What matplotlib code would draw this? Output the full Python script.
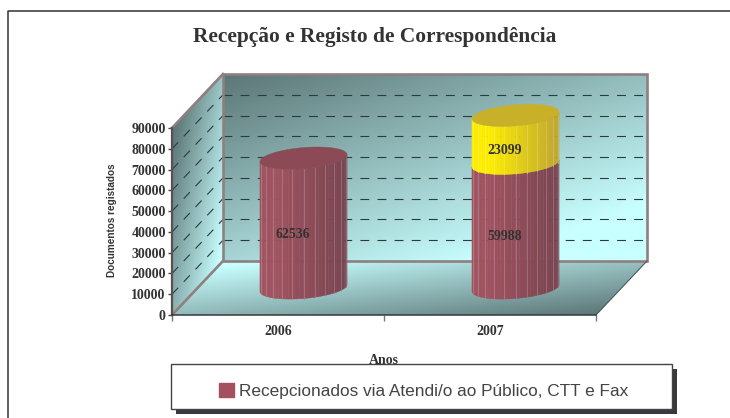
import numpy as np
import matplotlib
matplotlib.use('Agg')
import matplotlib.pyplot as plt
from matplotlib.patches import Polygon, Rectangle, Patch
from matplotlib.transforms import Affine2D, IdentityTransform
from matplotlib.colors import to_rgb

years = ['2006', '2007']
via_atendimento = [62536, 59988]
outros = [0, 23099]
y_ticks = [0, 10000, 20000, 30000, 40000, 50000, 60000, 70000, 80000, 90000]

W, H = 730, 418
SERIF = 'Liberation Serif'
SANS = 'Liberation Sans'
TEXT = '#333333'
DX, DY = 51, 54   # depth of the 3d box in pixels

fig = plt.figure(figsize=(W / 100, H / 100), dpi=100)
ax = fig.add_axes([172 / W, 1 - 315 / H, 424 / W, 187 / H])
ax.patch.set_visible(False)

# pixel coordinates, y going down like in the picture
px = Affine2D().scale(1, -1).translate(0, H)


def gradient(poly, c0, c1, gx, gy, lo, hi):
    xs = [p[0] for p in poly]
    ys = [p[1] for p in poly]
    x0, x1, y0, y1 = min(xs), max(xs), min(ys), max(ys)
    u, v = np.meshgrid(np.linspace(0, 1, 200), np.linspace(0, 1, 200))
    t = np.clip((gx * u + gy * v - lo) / (hi - lo), 0, 1)[..., None]
    img = np.array(to_rgb(c0)) * (1 - t) + np.array(to_rgb(c1)) * t
    im = ax.imshow(img, origin='lower', extent=(x0, x1, y0, y1), transform=px,
                   aspect='auto', zorder=1, interpolation='bilinear')
    im.set_clip_box(fig.bbox)
    im.set_clip_path(Polygon(poly, transform=px))


DARK, LIGHT = '#5c7676', '#c8ffff'
gradient([(223, 74), (647, 74), (647, 261), (223, 261)], DARK, LIGHT, 0.75, 1, 0, 1.45)
gradient([(172, 128), (223, 74), (223, 261), (172, 315)], DARK, LIGHT, 0.75, 0.6, 0.17, 1.18)
gradient([(172, 315), (223, 261), (647, 261), (596, 315)], LIGHT, DARK, 0.5, 0.55, 0.1, 1.0)

ax.set_xlim(0, 2)
ax.set_ylim(0, 90000)

# grid on the back wall and the side wall
for v in y_ticks[1:-1]:
    p = ax.transData.transform((0, v))
    ax.plot([p[0], p[0] + DX], [p[1], p[1] + DY], transform=IdentityTransform(),
            color='#2f3a3a', lw=0.8, ls=(0, (8, 7.4)), zorder=1.5, clip_on=False)
    ax.plot([p[0] + DX, p[0] + DX + 424], [p[1] + DY, p[1] + DY], transform=IdentityTransform(),
            color='#2f3a3a', lw=0.8, ls=(0, (8, 7.4)), zorder=1.5, clip_on=False)

# frame of the box
FRAME = '#8f7f7f'
ax.add_patch(Rectangle((223, 74), 424, 187, transform=px, fill=False, ec=FRAME, lw=1.9, zorder=1.8, clip_on=False))
ax.plot([172, 223], [128, 74], transform=px, color=FRAME, lw=1.9, zorder=1.8, clip_on=False)
ax.plot([172, 223], [315, 261], transform=px, color=FRAME, lw=1.9, zorder=1.8, clip_on=False)
ax.plot([596, 647], [315, 261], transform=px, color='#4a5a5a', lw=0.8, zorder=1.8, clip_on=False)

# cylinders
A, B, TILT = 43.5, 10.5, 3.5
BAR_HALF = A / 212
OFF_X, OFF_Y = 25.5, 27


def mix(c0, c1, t):
    return tuple(np.array(to_rgb(c0)) * (1 - t) + np.array(to_rgb(c1)) * t)


def cylinder(pos, bottom, height, left_c, right_c, top_c=None, z=3):
    cx, y0 = ax.transData.transform((pos, bottom))
    _, y1 = ax.transData.transform((pos, bottom + height))
    cx, y0, y1 = cx + OFF_X, y0 + OFF_Y, y1 + OFF_Y
    a = (ax.transData.transform((pos + BAR_HALF, 0))[0] - ax.transData.transform((pos, 0))[0])
    th = np.linspace(np.pi, 2 * np.pi, 37)
    xs = cx + a * np.cos(th)
    off = B * np.sin(th) + TILT * np.cos(th)
    for i in range(36):
        u = (xs[i] + xs[i + 1] - 2 * (cx - a)) / (4 * a)
        # brightest a quarter of the way across, like the original shading
        u = np.clip((u - 0.2) / 0.8, 0, 1)
        col = mix(left_c, right_c, u)
        poly = [(xs[i], y0 + off[i]), (xs[i + 1], y0 + off[i + 1]),
                (xs[i + 1], y1 + off[i + 1]), (xs[i], y1 + off[i])]
        ax.add_patch(Polygon(poly, transform=IdentityTransform(), fc=col, ec=col, lw=0.3, zorder=z, clip_on=False))
        if i % 3 == 0 and i > 0:
            ax.plot([xs[i], xs[i]], [y0 + off[i], y1 + off[i]], transform=IdentityTransform(),
                    color=mix(col, '#ffffff', 0.25), lw=0.55, zorder=z + 0.01, clip_on=False)
    if top_c:
        t = np.linspace(0, 2 * np.pi, 90)
        ell = np.column_stack([cx + a * np.cos(t), y1 + B * np.sin(t) + TILT * np.cos(t)])
        ax.add_patch(Polygon(ell, transform=IdentityTransform(), fc=top_c, ec=top_c, lw=0.3, zorder=z + 0.1, clip_on=False))


centers = [0.5, 1.5]
for i, c in enumerate(centers):
    has_top = outros[i] == 0
    cylinder(c, 0, via_atendimento[i], '#a0525f', '#784450', '#8b4a55' if has_top else None, z=3)
    if outros[i]:
        cylinder(c, via_atendimento[i], outros[i], '#ffee00', '#bfa530', '#c8b028', z=3.2)

# value labels
lab_kw = dict(transform=px, ha='center', va='center', family=SERIF, weight='bold',
              fontsize=10, color=TEXT, zorder=4, clip_on=False)
ax.text(293, 234, str(via_atendimento[0]), **lab_kw)
ax.text(505, 237, str(via_atendimento[1]), **lab_kw)
ax.text(505, 151, str(outros[1]), **lab_kw)

# axes
for s in ['top', 'right']:
    ax.spines[s].set_visible(False)
ax.spines['left'].set_color('#5a5050')
ax.spines['left'].set_linewidth(1.6)
ax.spines['bottom'].set_color('#333a3a')
ax.spines['bottom'].set_linewidth(1.1)
ax.set_yticks(y_ticks)
ax.set_xticks([0, 1, 2])
ax.set_xticklabels([])
ax.set_xticks(centers, years, minor=True)
ax.tick_params(axis='x', which='major', length=4, color='#777777', width=1)
ax.tick_params(axis='x', which='minor', length=0, pad=7)
ax.tick_params(axis='y', length=3, width=1, color='#444444', pad=1.5)
for t in ax.get_yticklabels() + ax.get_xticklabels(minor=True):
    t.set_family(SERIF)
    t.set_weight('bold')
    t.set_fontsize(10)
    t.set_color(TEXT)

ax.set_xlabel('Anos', family=SERIF, weight='bold', fontsize=10, color=TEXT)
ax.xaxis.set_label_coords(384, 360, transform=px)
ax.xaxis.label.set_va('center')
ax.set_ylabel('Documentos registados', family=SANS, weight='bold', fontsize=7.2, color=TEXT)
ax.yaxis.set_label_coords(112, 220, transform=px)
ax.yaxis.label.set_va('center')

ax.text(375, 37, 'Recepção e Registo de Correspondência', transform=px, ha='center', va='center',
        family=SERIF, weight='bold', fontsize=15.4, color=TEXT, clip_on=False)

# outer border of the chart
ax.plot([7.5, 7.5, 730], [418, 11, 11], transform=px, color='#333333', lw=1.1, zorder=0.5, clip_on=False)

# legend box with hard shadow
ax.add_patch(Rectangle((176, 369), 501, 45, transform=px, fc='#38383f', ec='none', zorder=9, clip_on=False))
ax.add_patch(Rectangle((171, 364), 501, 45, transform=px, fc='white', ec='#444444', lw=1, zorder=10, clip_on=False))
leg = ax.legend(handles=[Patch(fc='#a5505f', ec='#a5505f', label='Recepcionados via Atendi/o ao Público, CTT e Fax')],
                loc='center left', bbox_to_anchor=(219, 391), bbox_transform=px, frameon=False,
                prop={'family': SANS, 'size': 12.4}, labelcolor='#444444', handlelength=0.85, handleheight=0.85,
                handletextpad=0.3, borderpad=0, borderaxespad=0)
leg.set_zorder(11)

fig.savefig('out.png', dpi=100)
plt.close()
